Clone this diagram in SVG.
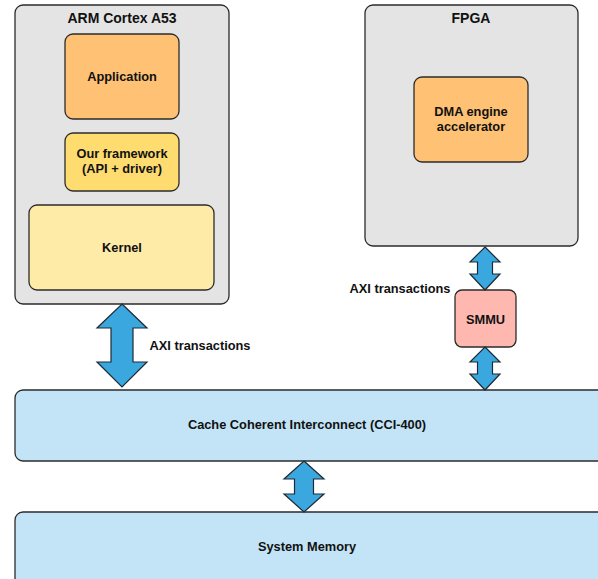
<svg xmlns="http://www.w3.org/2000/svg" width="598" height="579" viewBox="0 0 598 579">
<style>
.box{stroke:#2b2b2b;stroke-width:1.3}
.grey{fill:#e4e4e4}
.app{fill:#ffc173}
.fw{fill:#ffdc6f}
.kern{fill:#ffeba8}
.smmu{fill:#ffb8b0}
.blue{fill:#c2e4f6}
.arrow{fill:#3ba7df;stroke:#1e2a33;stroke-width:1.2;stroke-linejoin:miter}
text{font-family:"Liberation Sans",Arial,sans-serif;font-weight:bold;fill:#111;text-anchor:middle;dominant-baseline:central}
.t14{font-size:14px}
.t12{font-size:12.8px}
</style>
<rect width="598" height="579" fill="#ffffff"/>
<g id="arm">
<rect class="box grey" x="15" y="5" width="214" height="299" rx="8"/>
<text class="t14" x="122" y="18">ARM Cortex A53</text>
</g>
<g id="application">
<rect class="box app" x="65" y="34" width="114" height="85" rx="8"/>
<text class="t12" x="122" y="76">Application</text>
</g>
<g id="framework">
<rect class="box fw" x="65" y="133" width="114" height="58" rx="8"/>
<text class="t12" x="122" y="153">Our framework</text>
<text class="t12" x="122" y="168">(API + driver)</text>
</g>
<g id="kernel">
<rect class="box kern" x="29" y="205" width="185" height="85" rx="8"/>
<text class="t12" x="122" y="247">Kernel</text>
</g>
<g id="fpga">
<rect class="box grey" x="365" y="5" width="213" height="241" rx="8"/>
<text class="t14" x="471" y="18">FPGA</text>
</g>
<g id="dma">
<rect class="box app" x="414" y="77" width="114" height="85" rx="8"/>
<text class="t12" x="471" y="111">DMA engine</text>
<text class="t12" x="471" y="126">accelerator</text>
</g>
<g id="smmu">
<rect class="box smmu" x="455" y="290" width="61" height="57" rx="7"/>
<text class="t12" x="485.5" y="319">SMMU</text>
</g>
<g id="cci">
<rect class="box blue" x="15" y="390" width="596" height="71" rx="8"/>
<text class="t12" x="307" y="424">Cache Coherent Interconnect (CCI-400)</text>
</g>
<g id="memory">
<rect class="box blue" x="15" y="512" width="596" height="90" rx="8"/>
<text class="t12" x="307" y="546">System Memory</text>
</g>
<g id="connectors">
<polygon class="arrow" points="122,304 147,328 133,328 133,362 147,362 122,387 97,362 111,362 111,328 97,328"/>
<text class="t12" x="200" y="345">AXI transactions</text>
<polygon class="arrow" points="485,247 500,262 492.5,262 492.5,274 500,274 485,290 470,274 477.5,274 477.5,262 470,262"/>
<text class="t12" x="400" y="288">AXI transactions</text>
<polygon class="arrow" points="485,347 500,362 492.5,362 492.5,374 500,374 485,390 470,374 477.5,374 477.5,362 470,362"/>
<polygon class="arrow" points="304,461 324,479 313.5,479 313.5,494 324,494 304,512 284,494 294.5,494 294.5,479 284,479"/>
</g>
</svg>
